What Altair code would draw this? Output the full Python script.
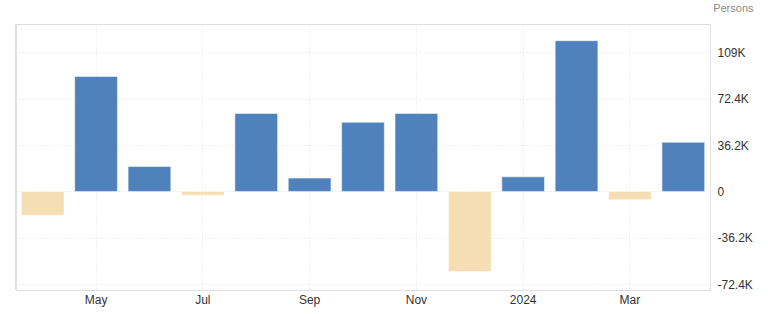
import altair as alt
import pandas as pd

months = ["2023-04", "2023-05", "2023-06", "2023-07", "2023-08", "2023-09", "2023-10",
          "2023-11", "2023-12", "2024-01", "2024-02", "2024-03", "2024-04"]
values = [-18600, 89600, 19400, -2900, 60800, 10400, 53900,
          60800, -62400, 11400, 117500, -6500, 38300]

x_tick_keys = ["2023-05", "2023-07", "2023-09", "2023-11", "2024-01", "2024-03"]
x_tick_labels = ["May", "Jul", "Sep", "Nov", "2024", "Mar"]

y_tick_values = [-72400, -36200, 0, 36200, 72400, 108600]
y_tick_labels = ["-72.4K", "-36.2K", "0", "36.2K", "72.4K", "109K"]
y_domain = [-76800, 130500]

df = pd.DataFrame({"month": months, "value": values})

def label_expr(keys, labels, quote=True):
    expr = "''"
    for k, l in reversed(list(zip(keys, labels))):
        kk = f"'{k}'" if quote else f"{k}"
        expr = f"datum.value == {kk} ? '{l}' : ({expr})"
    return expr

W, H = 694, 266
FONT = "Liberation Sans"
GRID = "#e2e2e2"

bars = alt.Chart(df).mark_bar(stroke="#ffffff", strokeOpacity=0.5, strokeWidth=1).encode(
    x=alt.X("month:O", sort=months,
            scale=alt.Scale(paddingInner=0.2, paddingOuter=0.1),
            axis=alt.Axis(values=x_tick_keys, labelExpr=label_expr(x_tick_keys, x_tick_labels),
                          labelAngle=0, title=None, ticks=False, grid=True,
                          gridColor=GRID, gridDash=[1, 2],
                          domainColor="#e0e0e0", labelColor="#333333",
                          labelFontSize=12, labelPadding=4, labelFont=FONT)),
    y=alt.Y("value:Q",
            scale=alt.Scale(domain=y_domain, nice=False, zero=False),
            axis=alt.Axis(orient="right", values=y_tick_values,
                          labelExpr=label_expr(y_tick_values, y_tick_labels, quote=False),
                          ticks=False, grid=True, gridColor=GRID, gridDash=[1, 2],
                          domainColor="#e0e0e0", labelColor="#333333",
                          labelFontSize=12, labelPadding=7, labelFont=FONT,
                          title="Persons", titleAngle=0, titleX=43, titleY=-13,
                          titleAlign="right", titleBaseline="alphabetic",
                          titleColor="#8a8a8a", titleFontSize=11, titleFontWeight="normal",
                          titleFont=FONT)),
    color=alt.condition(alt.datum.value >= 0, alt.value("#4f81bd"), alt.value("#f5deb3")),
)

left_rule = alt.Chart(df).mark_rule(color="#e0e0e0", strokeWidth=1).encode(
    x=alt.value(0), y=alt.value(0), y2=alt.value(H)
)

chart = alt.layer(bars, left_rule).properties(
    width=W, height=H,
    autosize=alt.AutoSizeParams(type="none"),
    padding={"left": 16, "top": 24, "right": 58, "bottom": 24},
).configure_view(
    stroke="#e0e0e0", strokeDash=[1, 2]
).configure(background="white")

chart.save("out.html", embed_options={"renderer": "svg", "actions": False})
